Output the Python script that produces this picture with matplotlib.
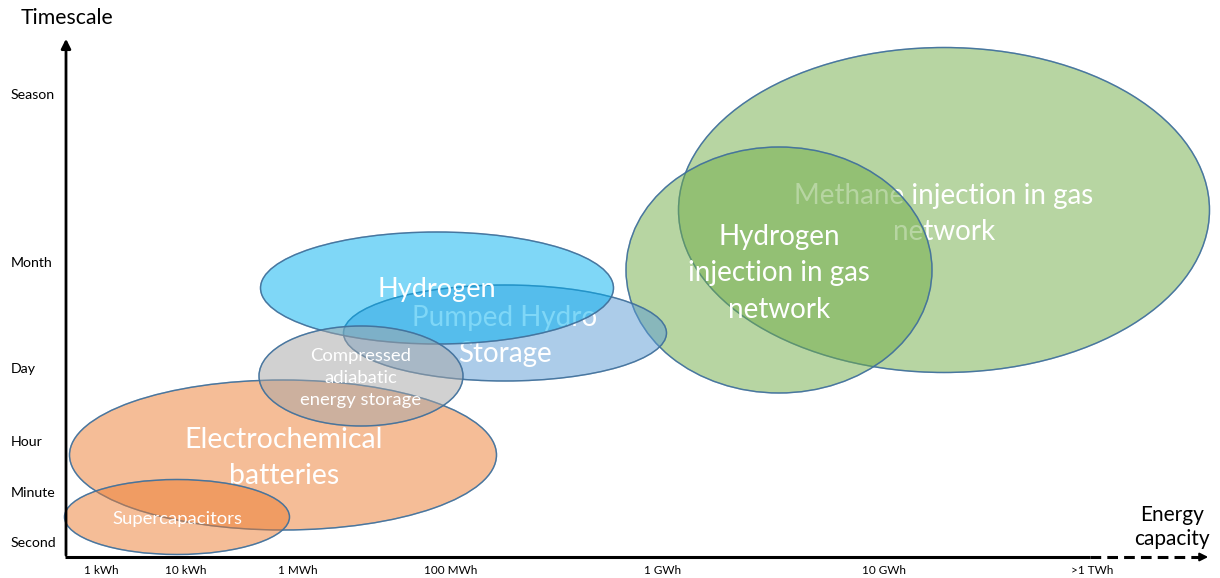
import matplotlib.pyplot as plt
from matplotlib.patches import Ellipse

plt.rcParams['font.family'] = ['Lato', 'DejaVu Sans']

# storage technologies: centre, width, height (diagram units), colour
techs = ['Methane injection in gas\nnetwork',
         'Hydrogen\ninjection in gas\nnetwork',
         'Pumped Hydro\nStorage',
         'Hydrogen',
         'Electrochemical\nbatteries',
         'Supercapacitors',
         'Compressed\nadiabatic\nenergy storage']
cx = [944, 779, 505, 437, 283, 177, 361]
cy = [210, 270, 333, 288, 455, 517, 376]
widths = [531, 306, 323, 353, 427, 225, 204]
heights = [325, 246, 96, 112, 150, 75, 100]
colors = ['#70AD47', '#70AD47', '#5B9BD5', '#00B0F0', '#ED7D31', '#ED7D31', '#A5A5A5']
label_size = [20, 20, 20, 19.5, 20.5, 13.3, 13.3]
label_x = [944, 779, 505, 437, 284, 177, 361]
label_y = [214, 273, 336, 290, 458, 519, 378]

time_labels = ['Season', 'Month', 'Day', 'Hour', 'Minute', 'Second']
time_pos = [95, 263, 369, 442, 493, 543]
energy_labels = ['1 kWh', '10 kWh', '1 MWh', '100 MWh', '1 GWh', '10 GWh', '>1 TWh']
energy_pos = [101, 186, 298, 451, 663, 884, 1092]

fig = plt.figure(figsize=(12.2, 5.78), dpi=100)
ax = fig.add_axes([0, 0, 1, 1])
ax.set_xlim(0, 1220)
ax.set_ylim(578, 0)
ax.axis('off')

z = 2
for name, x, y, w, h, c, fs, tx, ty in zip(techs, cx, cy, widths, heights,
                                           colors, label_size, label_x, label_y):
    ax.add_patch(Ellipse((x, y), w, h, facecolor=c, alpha=0.5,
                         edgecolor='#41719C', lw=1.0, zorder=z))
    ax.add_patch(Ellipse((x, y), w, h, facecolor='none',
                         edgecolor='#41719C', lw=1.0, alpha=0.9, zorder=z))
    ax.text(tx, ty, name, ha='center', va='center', color='white',
            fontsize=fs, linespacing=1.5, zorder=z + 1)
    z += 2

# axes with arrows
x0, y0 = 66, 557
ax.annotate('', xy=(x0, 36), xytext=(x0, y0 + 1),
            arrowprops=dict(arrowstyle='-|>', color='black', lw=2,
                            mutation_scale=14), zorder=50)
ax.plot([x0 - 1, 1090], [y0, y0], color='black', lw=2.2, zorder=50,
        solid_capstyle='butt')
ax.plot([1090, 1200], [y0, y0], color='black', lw=2.2, ls=(0, (3.5, 2)),
        zorder=50)
ax.annotate('', xy=(1211, y0), xytext=(1198, y0),
            arrowprops=dict(arrowstyle='-|>', color='black', lw=1.5,
                            mutation_scale=12), zorder=50)

for lab, p in zip(time_labels, time_pos):
    ax.text(11, p, lab, ha='left', va='center', fontsize=10.2, color='black')
for lab, p in zip(energy_labels, energy_pos):
    ax.text(p, 571, lab, ha='center', va='center', fontsize=8.5, color='black')

ax.text(67, 18, 'Timescale', ha='center', va='center', fontsize=15.3)
ax.text(1172, 527, 'Energy\ncapacity', ha='center', va='center', fontsize=15,
        linespacing=1.2)

fig.savefig('out.png', dpi=100)
